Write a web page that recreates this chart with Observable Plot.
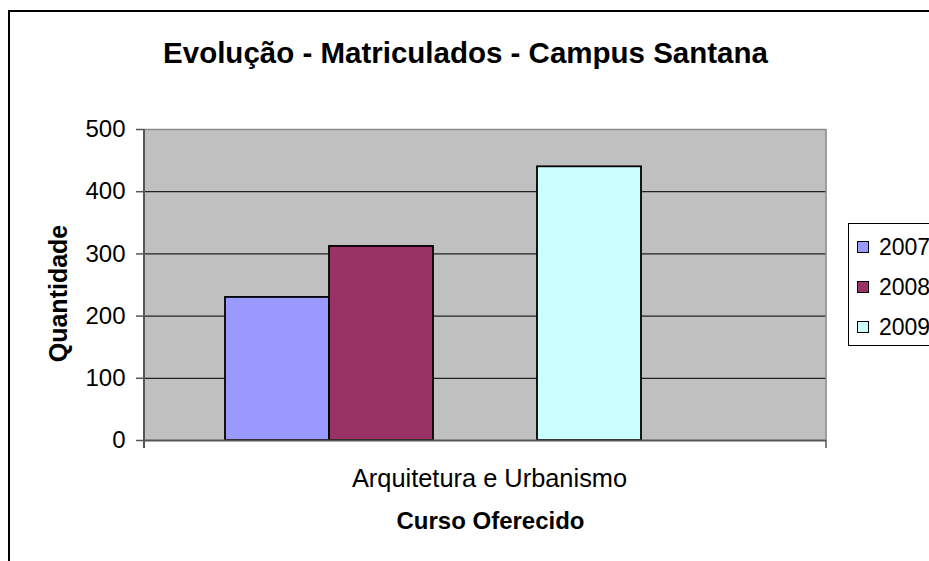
<!DOCTYPE html>
<html>
<head>
<meta charset="utf-8">
<script src="https://cdn.jsdelivr.net/npm/d3@7"></script>
<script src="https://cdn.jsdelivr.net/npm/@observablehq/plot@0.6"></script>
<style>
  html, body { margin: 0; padding: 0; background: #fff; overflow: hidden; }
  #wrap { position: relative; width: 929px; height: 561px; overflow: hidden; font-family: "Liberation Sans", Arial, sans-serif; }
  #border { position: absolute; left: 8px; top: 10px; width: 1000px; height: 700px; border: 2px solid #000; box-sizing: border-box; pointer-events: none; }
  #chart { position: absolute; left: 0; top: 0; }
  #legend { position: absolute; left: 848px; top: 223px; width: 120px; height: 123px; border: 1.5px solid #000; box-sizing: border-box; background: #fff; }
  .item { position: absolute; left: 8px; height: 24px; display: flex; align-items: center; font-size: 23px; color: #000; }
  .sw { width: 12px; height: 12px; border: 1.5px solid #000; box-sizing: border-box; margin-right: 10px; }
</style>
</head>
<body>
<div id="wrap">
  <div id="chart"></div>
  <div id="legend"></div>
  <div id="border"></div>
</div>
<script>
// ---- data ----
const title = "Evolução - Matriculados - Campus Santana";
const categories = ["Arquitetura e Urbanismo"];
const series = ["2007", "2008", "2009"];
const values = [230, 312, 440];
const colors = ["#9999FF", "#993366", "#CCFFFF"];
// slot order of the clustered bars (Excel left two empty series slots)
const slots = ["2007", "2008", "(vazio 1)", "2009", "(vazio 2)"];
const yTicks = [0, 100, 200, 300, 400, 500];
const yLabel = "Quantidade";
const xLabel = "Curso Oferecido";

const data = series.map((s, i) => ({serie: s, curso: categories[0], value: values[i]}));

const font = "'Liberation Sans', Arial, sans-serif";

// custom mark: left axis line, right/top borders, category boundary ticks
const borders = (index, scales, values, dims) => {
  const g = d3.create("svg:g");
  const x0 = dims.marginLeft, x1 = dims.width - dims.marginRight;
  const y0 = dims.marginTop, y1 = dims.height - dims.marginBottom;
  g.append("line").attr("x1", x0).attr("x2", x1).attr("y1", y0 + 0.5).attr("y2", y0 + 0.5).attr("stroke", "#8c8c8c").attr("stroke-width", 1.5);
  g.append("line").attr("x1", x1).attr("x2", x1).attr("y1", y0).attr("y2", y1).attr("stroke", "#8c8c8c").attr("stroke-width", 1.5);
  g.append("line").attr("x1", x0).attr("x2", x0).attr("y1", y0).attr("y2", y1 + 8).attr("stroke", "#555").attr("stroke-width", 2);
  g.append("line").attr("x1", x1).attr("x2", x1).attr("y1", y1).attr("y2", y1 + 8).attr("stroke", "#555").attr("stroke-width", 1.5);
  return g.node();
};

const plot = Plot.plot({
  width: 929,
  height: 561,
  marginLeft: 144,
  marginRight: 103,
  marginTop: 129,
  marginBottom: 121,
  style: {fontFamily: font, background: "transparent", overflow: "visible"},
  x: {type: "band", domain: slots, paddingInner: 0, paddingOuter: 0.75, axis: null},
  y: {domain: [0, 500], axis: null},
  color: {domain: series, range: colors},
  marks: [
    Plot.frame({fill: "#C0C0C0", stroke: "none"}),
    Plot.ruleY(yTicks.filter(v => v > 0 && v < 500), {stroke: "#222", strokeWidth: 1.2}),
    Plot.barY(data, {x: "serie", y: "value", fill: "serie", stroke: "#000", strokeWidth: 1.8}),
    Plot.ruleY([0], {stroke: "#555", strokeWidth: 2}),
    borders,
    Plot.axisY({ticks: yTicks, tickSize: 8, tickPadding: 11, fontSize: 24, stroke: "#555", strokeWidth: 1.5, fill: "#000", label: null, tickFormat: d => String(d)}),
    Plot.text([title], {frameAnchor: "top", textAnchor: "middle", dx: -20, dy: -76, lineAnchor: "middle", fontSize: 29.5, fontWeight: "bold", fill: "#000", text: d => d}),
    Plot.text(categories, {frameAnchor: "bottom", textAnchor: "middle", dx: 4, dy: 38, lineAnchor: "middle", fontSize: 25.4, fill: "#000", text: d => d}),
    Plot.text([xLabel], {frameAnchor: "bottom", textAnchor: "middle", dx: 5, dy: 81, lineAnchor: "middle", fontSize: 24, fontWeight: "bold", fill: "#000", text: d => d}),
    Plot.text([yLabel], {frameAnchor: "left", textAnchor: "middle", dx: -86, dy: 8.5, rotate: -90, lineAnchor: "middle", fontSize: 25, fontWeight: "bold", fill: "#000", text: d => d, style: "letter-spacing: 1.8px"})
  ]
});
document.getElementById("chart").appendChild(plot);

// legend built from the same arrays
const legend = d3.select("#legend");
series.forEach((s, i) => {
  const it = legend.append("div").attr("class", "item").style("top", (11 + i * 40) + "px");
  it.append("div").attr("class", "sw").style("background", colors[i]);
  it.append("span").text(s);
});
</script>
</body>
</html>
